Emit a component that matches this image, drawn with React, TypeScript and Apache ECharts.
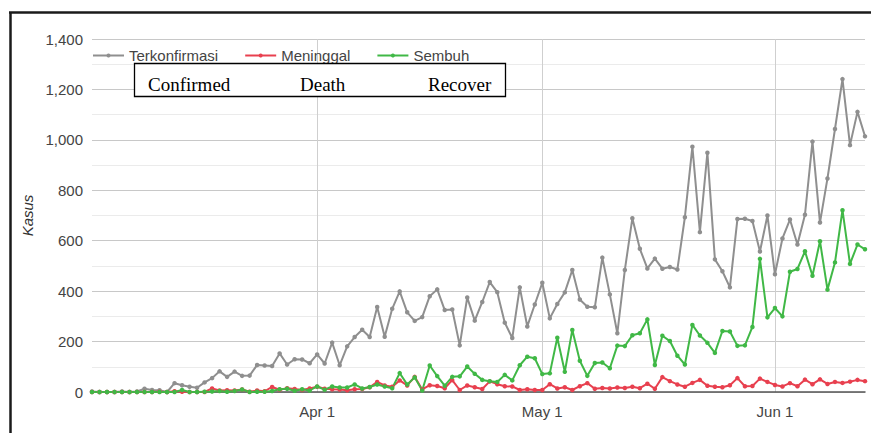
import React, { useEffect, useRef } from "react";
import * as echarts from "echarts";

const MARCH = ["Mar 2","Mar 3","Mar 4","Mar 5","Mar 6","Mar 7","Mar 8","Mar 9","Mar 10","Mar 11","Mar 12","Mar 13","Mar 14","Mar 15","Mar 16","Mar 17","Mar 18","Mar 19","Mar 20","Mar 21","Mar 22","Mar 23","Mar 24","Mar 25","Mar 26","Mar 27","Mar 28","Mar 29","Mar 30","Mar 31"];
const APRIL = ["Apr 1","Apr 2","Apr 3","Apr 4","Apr 5","Apr 6","Apr 7","Apr 8","Apr 9","Apr 10","Apr 11","Apr 12","Apr 13","Apr 14","Apr 15","Apr 16","Apr 17","Apr 18","Apr 19","Apr 20","Apr 21","Apr 22","Apr 23","Apr 24","Apr 25","Apr 26","Apr 27","Apr 28","Apr 29","Apr 30"];
const MAY = ["May 1","May 2","May 3","May 4","May 5","May 6","May 7","May 8","May 9","May 10","May 11","May 12","May 13","May 14","May 15","May 16","May 17","May 18","May 19","May 20","May 21","May 22","May 23","May 24","May 25","May 26","May 27","May 28","May 29","May 30","May 31"];
const JUNE = ["Jun 1","Jun 2","Jun 3","Jun 4","Jun 5","Jun 6","Jun 7","Jun 8","Jun 9","Jun 10","Jun 11","Jun 12","Jun 13"];

const TICK_LABELS = ["Apr 1", "May 1", "Jun 1"];

const CONFIRMED_MAR = [2,0,0,0,2,0,2,13,8,7,0,35,27,21,17,38,55,82,60,81,64,65,107,105,103,153,109,130,129,114];
const CONFIRMED_APR = [149,113,196,106,181,218,247,218,337,219,330,399,316,282,297,380,407,325,327,185,375,283,357,436,396,275,214,415,260,347];
const CONFIRMED_MAY = [433,292,349,395,484,367,338,336,533,387,233,484,689,568,490,529,489,496,486,693,973,634,949,526,479,415,686,687,678,557,700];
const CONFIRMED_JUN = [467,609,684,585,703,993,672,847,1043,1241,979,1111,1014];

const DEATH_MAR = [0,0,0,0,0,0,0,0,0,1,0,3,1,0,0,0,14,6,7,6,10,1,6,3,20,9,15,12,8,14];
const DEATH_APR = [21,13,11,10,7,11,12,19,40,26,21,46,26,60,10,27,24,15,47,8,26,19,12,42,31,23,22,8,11,8];
const DEATH_MAY = [8,31,14,19,8,23,35,13,16,14,18,16,21,15,33,13,59,43,30,21,36,48,25,21,19,27,55,23,24,53,40];
const DEATH_JUN = [28,22,35,23,49,31,50,32,40,36,41,48,43];

const RECOVER_MAR = [0,0,0,0,0,0,0,0,0,0,0,0,8,0,0,1,2,4,1,4,10,0,1,1,4,11,13,5,11,6];
const RECOVER_APR = [22,9,22,18,18,30,14,20,30,22,15,75,30,58,6,105,63,25,60,62,101,72,48,43,40,68,46,106,140,134];
const RECOVER_MAY = [71,74,215,80,246,124,64,115,117,94,184,182,225,233,288,107,223,202,144,109,266,224,195,155,242,240,183,185,258,528,296];
const RECOVER_JUN = [333,300,477,488,558,461,598,406,514,721,508,585,566];

const SERIES_NAMES = ["Terkonfirmasi", "Meninggal", "Sembuh"];
const BOX_LABELS = ["Confirmed", "Death", "Recover"];

const DATES = [...MARCH, ...APRIL, ...MAY, ...JUNE];
const CONFIRMED = [...CONFIRMED_MAR, ...CONFIRMED_APR, ...CONFIRMED_MAY, ...CONFIRMED_JUN];
const DEATHS = [...DEATH_MAR, ...DEATH_APR, ...DEATH_MAY, ...DEATH_JUN];
const RECOVERED = [...RECOVER_MAR, ...RECOVER_APR, ...RECOVER_MAY, ...RECOVER_JUN];

const COLORS = ["#8f8f8f", "#e8404f", "#40b846"];
const SANS = 'Arial, "Liberation Sans", sans-serif';
const SERIF = '"Times New Roman", "Liberation Serif", serif';

export default function App() {
  const ref = useRef<HTMLDivElement>(null);

  useEffect(() => {
    if (!ref.current) return;
    const chart = echarts.init(ref.current, undefined, { renderer: "svg" });
    const isTick = (_i: number, v: string) => TICK_LABELS.includes(v);
    const mkSeries = (name: string, data: number[], color: string) => ({
      name,
      type: "line",
      data,
      color,
      symbol: "circle",
      symbolSize: 4.5,
      showSymbol: true,
      lineStyle: { width: 2, color },
      itemStyle: { color },
      emphasis: { disabled: true },
    });
    const boxX = [148, 300, 428];
    chart.setOption({
      animation: false,
      textStyle: { fontFamily: SANS },
      grid: { left: 92, right: 6, top: 39, bottom: 41 },
      legend: {
        data: SERIES_NAMES,
        left: 92,
        top: 48,
        padding: 0,
        itemWidth: 31,
        itemHeight: 5,
        itemGap: 26,
        textStyle: { fontSize: 15, color: "#444", fontFamily: SANS },
      },
      xAxis: {
        type: "category",
        data: DATES,
        boundaryGap: false,
        axisTick: { show: false },
        axisLine: { lineStyle: { color: "#555", width: 1.5 } },
        axisLabel: {
          interval: isTick,
          fontSize: 15,
          color: "#444",
          margin: 12,
          fontFamily: SANS,
        },
        splitLine: { show: true, interval: isTick, lineStyle: { color: "#cfcfcf", width: 1 } },
      },
      yAxis: {
        type: "value",
        min: 0,
        max: 1400,
        interval: 200,
        name: "Kasus",
        nameLocation: "middle",
        nameGap: 54,
        nameRotate: 90,
        nameTextStyle: { fontSize: 15, fontStyle: "italic", color: "#333", fontFamily: SANS },
        axisLine: { show: false },
        axisTick: { show: false },
        axisLabel: {
          fontSize: 15,
          color: "#444",
          margin: 9,
          fontFamily: SANS,
          formatter: (v: number) => v.toLocaleString("en-US"),
        },
        splitLine: { lineStyle: { color: "#c8c8c8" } },
        minorTick: { show: false, splitNumber: 2 },
        minorSplitLine: { show: true, lineStyle: { color: "#ebebeb" } },
      },
      series: [
        mkSeries(SERIES_NAMES[0], CONFIRMED, COLORS[0]),
        mkSeries(SERIES_NAMES[1], DEATHS, COLORS[1]),
        mkSeries(SERIES_NAMES[2], RECOVERED, COLORS[2]),
      ],
      graphic: [
        {
          type: "line",
          z: 100,
          shape: { x1: 10.5, y1: 12, x2: 10.5, y2: 440 },
          style: { stroke: "#1a1a1a", lineWidth: 2.5 },
        },
        {
          type: "line",
          z: 100,
          shape: { x1: 9, y1: 12.5, x2: 880, y2: 12.5 },
          style: { stroke: "#1a1a1a", lineWidth: 2.5 },
        },
        {
          type: "rect",
          z: 100,
          shape: { x: 134.5, y: 63.5, width: 371, height: 33 },
          style: { fill: "#ffffff", stroke: "#000000", lineWidth: 1.3 },
        },
        ...BOX_LABELS.map((t, i) => ({
          type: "text",
          z: 101,
          x: boxX[i],
          y: 84,
          style: {
            text: t,
            fill: "#000",
            font: `19px ${SERIF}`,
            align: "left",
            verticalAlign: "middle",
          },
        })),
      ],
    });
    return () => chart.dispose();
  }, []);

  return (
    <div
      ref={ref}
      style={{ position: "fixed", left: 0, top: 0, width: 871, height: 433, background: "#fff" }}
    />
  );
}
